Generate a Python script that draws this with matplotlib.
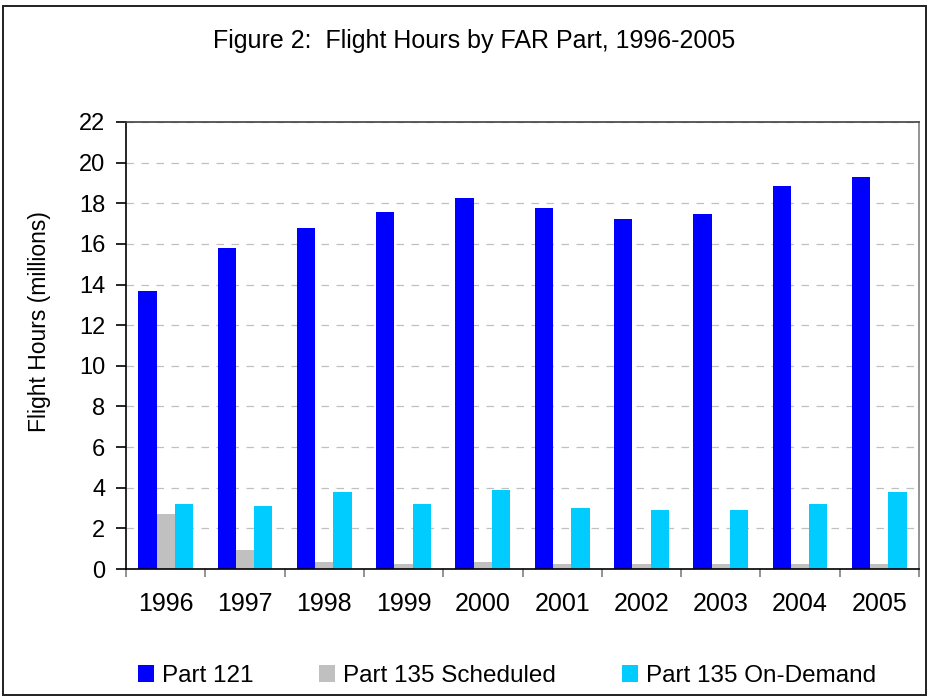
import numpy as np
import matplotlib.pyplot as plt
from matplotlib.patches import Rectangle

plt.rcParams['font.family'] = ['Liberation Sans', 'DejaVu Sans']

years = ['1996', '1997', '1998', '1999', '2000', '2001', '2002', '2003', '2004', '2005']
part121 = [13.7, 15.8, 16.8, 17.55, 18.25, 17.75, 17.25, 17.45, 18.85, 19.3]
part135_sched = [2.7, 0.95, 0.35, 0.25, 0.35, 0.25, 0.25, 0.25, 0.25, 0.25]
part135_ondemand = [3.2, 3.1, 3.8, 3.2, 3.9, 3.0, 2.9, 2.9, 3.2, 3.8]

W, H = 927, 696
fig = plt.figure(figsize=(W / 100, H / 100), dpi=100)
# outer chart border
fig.patches.append(Rectangle((2.5 / W, 1 / H), 1 - 4 / W, 1 - 6.5 / H, transform=fig.transFigure,
                             fill=False, edgecolor='#202020', linewidth=1.4))

ax = fig.add_axes([126 / W, 1 - 569 / H, (919 - 126) / W, (569 - 122) / H])
x = np.arange(len(years))
w = 0.23
ax.bar(x - w, part121, w, color='#0000ff', label='Part 121')
ax.bar(x, part135_sched, w, color='#c0c0c0', label='Part 135 Scheduled')
ax.bar(x + w, part135_ondemand, w, color='#00ccff', label='Part 135 On-Demand')

ax.set_xlim(-0.5, len(years) - 0.5)
ax.set_ylim(0, 22)
ax.set_yticks(np.arange(0, 23, 2))
ax.set_xticks(x)
ax.set_xticklabels(years)
ax.set_xticks(np.arange(-0.5, len(years), 1), minor=True)
ax.tick_params(axis='x', which='major', length=0, pad=16.5, labelsize=18)
ax.tick_params(axis='x', which='minor', length=6, width=1.2, color='#808080', direction='out')
ax.tick_params(axis='y', length=7, width=1.2, pad=8, labelsize=17)
ax.yaxis.grid(True, linestyle=(0, (6, 6)), color='#c0c0c0', linewidth=0.9)
ax.set_axisbelow(True)
for s in ['top', 'left', 'bottom']:
    ax.spines[s].set_linewidth(1.2)
ax.spines['right'].set_color('#808080')
ax.spines['right'].set_linewidth(1.2)
ax.spines['top'].set_color('#404040')

fig.text(40 / W, 1 - 322 / H, 'Flight Hours (millions)', rotation=90, ha='center', va='center', fontsize=16.5)
fig.text(474 / W, 1 - 48 / H, 'Figure 2:  Flight Hours by FAR Part, 1996-2005',
         ha='center', va='baseline', fontsize=18)

fig.legend(loc='center left', bbox_to_anchor=(138 / W, 1 - 676 / H), ncol=3, frameon=False,
           borderpad=0, borderaxespad=0, fontsize=17.5, handlelength=0.66, handleheight=0.66,
           handletextpad=0.33, columnspacing=2.7)

fig.savefig('out.png', dpi=100)
